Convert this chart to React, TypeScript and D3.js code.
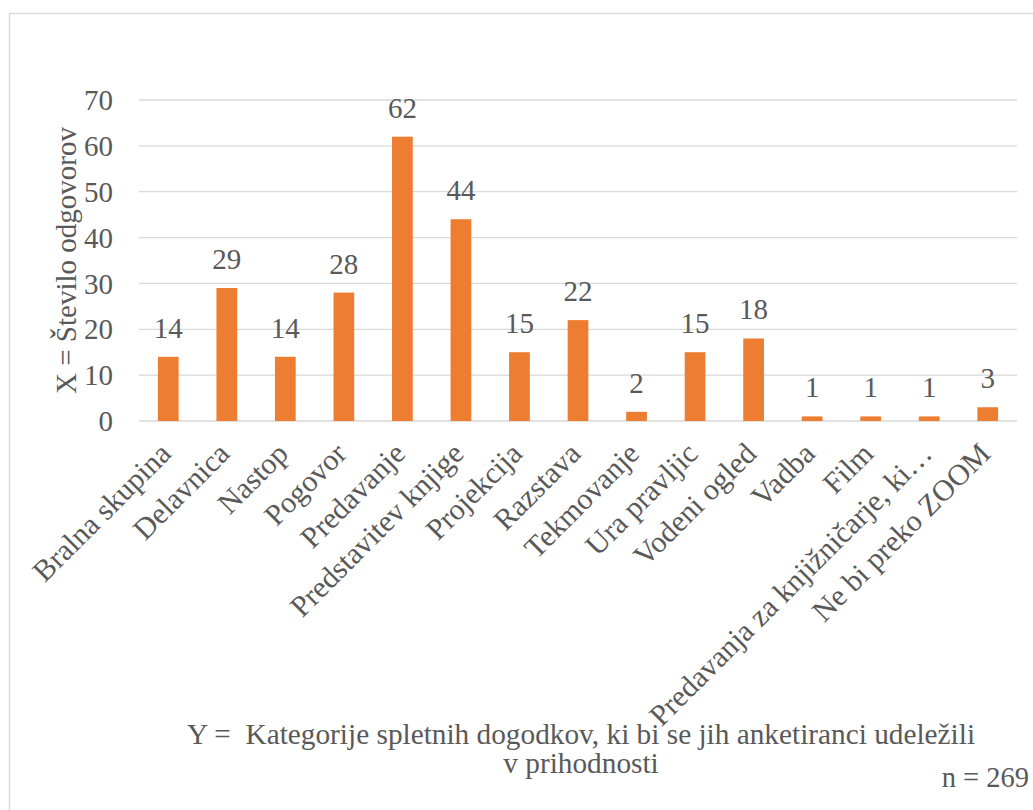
import React from 'react';
import * as d3 from 'd3';

const categories = [
  'Bralna skupina',
  'Delavnica',
  'Nastop',
  'Pogovor',
  'Predavanje',
  'Predstavitev knjige',
  'Projekcija',
  'Razstava',
  'Tekmovanje',
  'Ura pravljic',
  'Vodeni ogled',
  'Vadba',
  'Film',
  'Predavanja za knjižničarje, ki…',
  'Ne bi preko ZOOM',
];
const counts = [14, 29, 14, 28, 62, 44, 15, 22, 2, 15, 18, 1, 1, 1, 3];
const yTicks = [0, 10, 20, 30, 40, 50, 60, 70];

const yTitle = 'X = Število odgovorov';
const xTitleLines = ['Y =\u00A0 Kategorije spletnih dogodkov, ki bi se jih anketiranci udeležili', 'v prihodnosti'];
const note = 'n = 269';

const W = 1033;
const H = 810;
const plot = { left: 139, right: 1017, top: 100, bottom: 421 };
const textColor = '#595959';
const txt = { fontFamily: '"Liberation Serif", monospace' };

export default function App() {
  const x = d3
    .scaleBand()
    .domain(categories)
    .range([plot.left, plot.right])
    .paddingInner(0.646)
    .paddingOuter(0.323);
  const y = d3.scaleLinear().domain([0, 70]).range([plot.bottom, plot.top]);

  return (
    <svg width={W} height={H} style={{ position: 'absolute', left: 0, top: 0, background: '#fff' }}>
      <rect x={9.5} y={13.5} width={W + 10} height={H + 10} fill="#fff" stroke="#D9D9D9" strokeWidth={1.5} />

      {yTicks.map((t) => (
        <g key={t}>
          <line x1={plot.left} x2={plot.right} y1={y(t)} y2={y(t)} stroke="#D9D9D9" strokeWidth={1.3} />
          <text x={113} y={y(t)} dy="0.35em" textAnchor="end" fontSize={29} fill={textColor} style={txt}>
            {t}
          </text>
        </g>
      ))}

      {categories.map((c, i) => (
        <g key={c}>
          <rect
            x={x(c)}
            y={y(counts[i])}
            width={x.bandwidth()}
            height={y(0) - y(counts[i])}
            fill="#ED7D31"
          />
          <text
            x={(x(c) as number) + x.bandwidth() / 2}
            y={y(counts[i]) - 19}
            textAnchor="middle"
            fontSize={29}
            fill={textColor}
            style={txt}
          >
            {counts[i]}
          </text>
          <text
            transform={`translate(${(x(c) as number) + x.bandwidth() / 2 - 3},${plot.bottom + 27}) rotate(-45)`}
            textAnchor="end"
            dy="0.35em"
            fontSize={30}
            fill={textColor}
            style={txt}
          >
            {c}
          </text>
        </g>
      ))}

      <text
        transform={`translate(66,${(plot.top + plot.bottom) / 2}) rotate(-90)`}
        textAnchor="middle"
        dy="0.35em"
        fontSize={29}
        fill={textColor}
        style={txt}
      >
        {yTitle}
      </text>

      {xTitleLines.map((l, i) => (
        <text key={l} x={581} y={744 + i * 29} textAnchor="middle" fontSize={29.3} fill={textColor} style={txt}>
          {l}
        </text>
      ))}
      <text x={1029} y={787} textAnchor="end" fontSize={28.5} fill={textColor} style={txt}>
        {note}
      </text>
    </svg>
  );
}
